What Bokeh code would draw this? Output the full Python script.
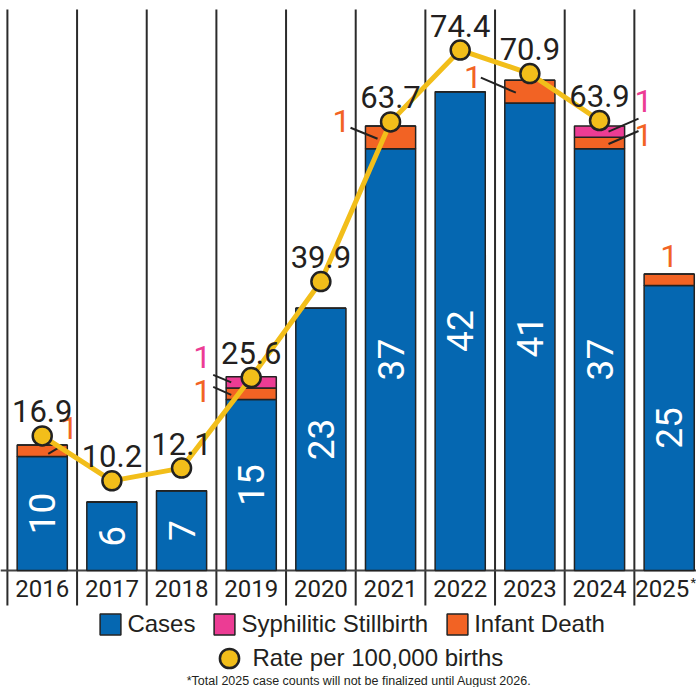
import math
from bokeh.plotting import figure
from bokeh.models import ColumnDataSource, Range1d, Legend, LegendItem, Label
from bokeh.core.properties import value
from bokeh.embed import file_html
from bokeh.resources import INLINE

# ---------------- data ----------------
years = ["2016", "2017", "2018", "2019", "2020", "2021", "2022", "2023", "2024", "2025"]
cases = [10, 6, 7, 15, 23, 37, 42, 41, 37, 25]
# infant-death segment heights as drawn in the graphic
infant_deaths = [1, 0, 0, 1, 0, 2, 0, 2, 1, 1]
stillbirths = [0, 0, 0, 1, 0, 0, 0, 0, 1, 0]
rate_years = ["2016", "2017", "2018", "2019", "2020", "2021", "2022", "2023", "2024"]
rate = [16.9, 10.2, 12.1, 25.6, 39.9, 63.7, 74.4, 70.9, 63.9]
rate_labels = ["16.9", "10.2", "12.1", "25.6", "39.9", "63.7", "74.4", "70.9", "63.9"]
callout_years = ["2016", "2019", "2019", "2021", "2023", "2024", "2024", "2025"]
callout_series = ["infant", "still", "infant", "infant", "infant", "still", "infant", "infant"]
callout_text = ["1", "1", "1", "1", "1", "1", "1", "1"]
footnote = "*Total 2025 case counts will not be finalized until August 2026."

# ---------------- style / layout ----------------
BLUE = "#0567B1"
PINK = "#EC3C94"
ORANGE = "#F26324"
YELLOW = "#F2BE1A"
INK = "#231F20"
NUMF = "Roboto"
SANS = "Liberation Sans"

W, H = 696, 687
X0, X1 = -0.0991, 9.892
YMIN, YMAX = -10.263, 50.0
RMIN, RMAX = -20.596, 81.79
PXX = W / (X1 - X0)
PXY = H / (YMAX - YMIN)
PXR = H / (RMAX - RMIN)
RATE_LABEL_GAP = 24.5  # px above point centre

# callout geometry in px relative to (bar centre, segment middle): leader inner, leader outer, label centre
CALLOUT_GEOM = [
    (6, 3, 21, -6, 27, -23),
    (-20, 0, -38, -7.5, -49, -25),
    (-20, 1, -38, -7, -49, -3),
    (-13, 1.5, -40, -9.5, -49, -16.5),
    (-14, 1, -49, -14, -57, -15),
    (9, 0, 39, -13, 44, -31),
    (9, 1, 39, -12, 44, -8),
    (None, None, None, None, 0, -23.5),
]

xc = [i + 0.5 for i in range(len(years))]

p = figure(width=W, height=H, x_range=Range1d(X0, X1), y_range=Range1d(YMIN, YMAX),
           output_backend="svg", toolbar_location=None, min_border=0,
           x_axis_type=None, y_axis_type=None, outline_line_color=None,
           background_fill_color="white", border_fill_color="white")
p.extra_y_ranges = {"rate": Range1d(RMIN, RMAX)}

# separators between years
sep_x = list(range(0, len(years) + 1))
p.segment(x0=sep_x, x1=sep_x, y0=[-35 / PXY] * len(sep_x), y1=[YMAX - 9 / PXY] * len(sep_x),
          line_color="#2b2b2b", line_width=2)
# baseline
p.segment(x0=[X0], x1=[X1], y0=[0], y1=[0], line_color="#444444", line_width=2)

src = ColumnDataSource(dict(x=xc, year=years, cases=cases, infant=infant_deaths, still=stillbirths,
                            mid=[c / 2 for c in cases], clabel=[str(c) for c in cases]))
bars = p.vbar_stack(["cases", "infant", "still"], x="x", width=0.72, source=src,
                    fill_color=[BLUE, ORANGE, PINK], line_color="#222222", line_width=1.5)
r_cases, r_inf, r_still = bars

# numbers inside bars
p.text(x="x", y="mid", text="clabel", source=src, angle=math.pi / 2,
       text_align="center", text_baseline="middle", text_color="white",
       text_font=value(NUMF), text_font_size="37px")

# callouts
lx0, ly0, lx1, ly1, tx, ty, tc = [], [], [], [], [], [], []
for yr, ser, txt, g in zip(callout_years, callout_series, callout_text, CALLOUT_GEOM):
    i = years.index(yr)
    if ser == "infant":
        mid = cases[i] + infant_deaths[i] / 2
        col = ORANGE
    else:
        mid = cases[i] + infant_deaths[i] + stillbirths[i] / 2
        col = PINK
    bx = xc[i]
    if g[0] is not None:
        lx0.append(bx + g[0] / PXX); ly0.append(mid - g[1] / PXY)
        lx1.append(bx + g[2] / PXX); ly1.append(mid - g[3] / PXY)
    tx.append(bx + g[4] / PXX); ty.append(mid - g[5] / PXY); tc.append(col)
p.segment(x0=lx0, y0=ly0, x1=lx1, y1=ly1, line_color="#222222", line_width=2)
csrc = ColumnDataSource(dict(x=tx, y=ty, t=callout_text, c=tc))
p.text(x="x", y="y", text="t", text_color="c", source=csrc, text_align="center",
       text_baseline="middle", text_font=value(NUMF), text_font_size="32px")

# rate line + points
rsrc = ColumnDataSource(dict(x=[xc[years.index(y)] for y in rate_years], rate=rate,
                             ly=[r + RATE_LABEL_GAP / PXR for r in rate], lab=rate_labels))
p.line(x="x", y="rate", source=rsrc, y_range_name="rate", line_color=YELLOW, line_width=5)
r_pts = p.scatter(x="x", y="rate", source=rsrc, y_range_name="rate", size=19, marker="circle",
                  fill_color=YELLOW, line_color="#222222", line_width=2.5)

# rate labels (on top of the line)
p.text(x="x", y="ly", text="lab", source=rsrc, y_range_name="rate", text_align="center",
       text_baseline="alphabetic", text_color=INK, text_font=value(NUMF), text_font_size="31px")

# year labels
yx = [c - (7 / PXX if y == "2025" else 0) for c, y in zip(xc, years)]
ysrc = ColumnDataSource(dict(x=yx, y=[-18 / PXY] * len(years), t=years))
p.text(x="x", y="y", text="t", source=ysrc, text_align="center", text_baseline="middle",
       text_color=INK, text_font=value(NUMF), text_font_size="24px")
p.text(x=[xc[-1] + 24 / PXX], y=[-12 / PXY], text=["*"], text_align="center",
       text_baseline="middle", text_color=INK, text_font=value(NUMF), text_font_size="13px")

# legends
common = dict(orientation="horizontal", padding=0, margin=0, border_line_color=None,
              background_fill_alpha=0, label_text_font=SANS, label_text_font_size="24px",
              label_text_color=INK)
leg1 = Legend(items=[LegendItem(label="Cases", renderers=[r_cases]),
                     LegendItem(label="Syphilitic Stillbirth", renderers=[r_still]),
                     LegendItem(label="Infant Death", renderers=[r_inf])],
              location=(97.4, 49), glyph_width=26, glyph_height=26, label_height=26,
              label_standoff=4, spacing=16, **common)
leg2 = Legend(items=[LegendItem(label="Rate per 100,000 births", renderers=[r_pts])],
              location=(204.5, 5.5), glyph_width=48, glyph_height=48, label_height=48,
              label_standoff=-7, spacing=0, **common)
p.add_layout(leg1)
p.add_layout(leg2)

p.add_layout(Label(x=358.5, y=7, x_units="screen", y_units="screen", text=footnote,
                   text_align="center", text_baseline="middle", text_font=SANS,
                   text_font_size="12.5px", text_color=INK))

open("out.html", "w").write(file_html(p, INLINE))
